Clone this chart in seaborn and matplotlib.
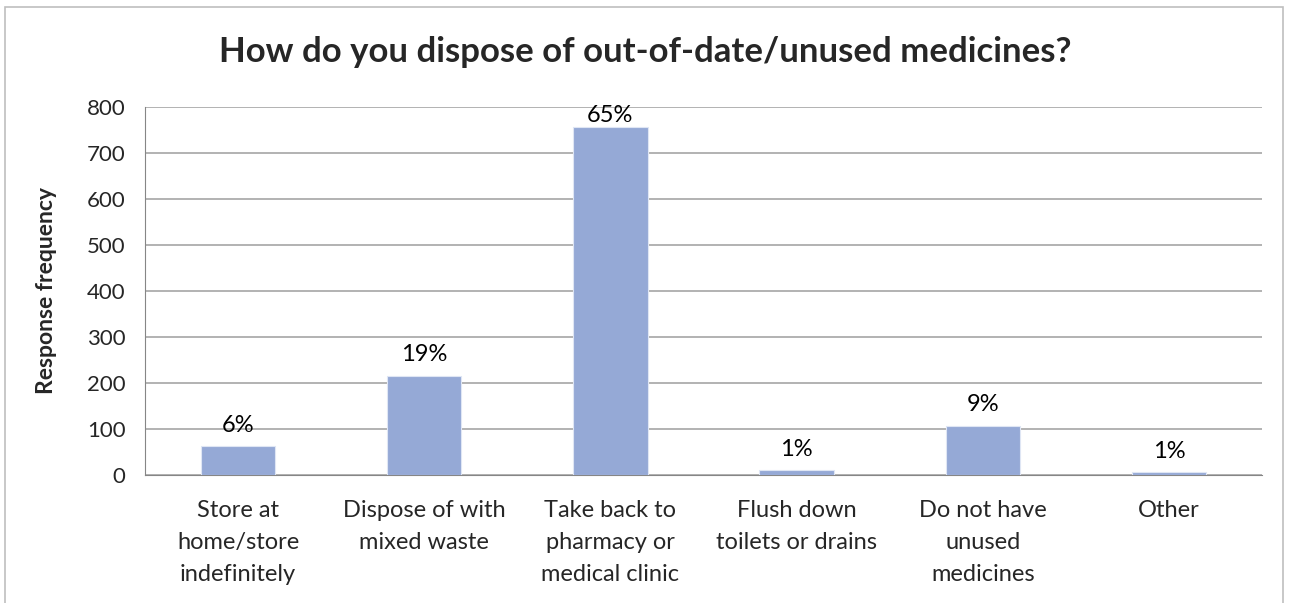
import matplotlib
matplotlib.use("Agg")
import matplotlib.pyplot as plt
import seaborn as sns
import pandas as pd
from matplotlib.patches import Rectangle

# Data
categories = ["Store at\nhome/store\nindefinitely", "Dispose of with\nmixed waste",
              "Take back to\npharmacy or\nmedical clinic", "Flush down\ntoilets or drains",
              "Do not have\nunused\nmedicines", "Other"]
frequencies = [62, 216, 757, 10, 107, 6]
percent_labels = ["6%", "19%", "65%", "1%", "9%", "1%"]
y_ticks = [0, 100, 200, 300, 400, 500, 600, 700, 800]

df = pd.DataFrame({"category": categories, "frequency": frequencies})

sns.set_style("white")
plt.rcParams['font.family'] = ['Lato', 'DejaVu Sans']

fig = plt.figure(figsize=(12.9, 6.03), dpi=100)
ax = fig.add_axes([145 / 1290, 1 - 475 / 603, (1262 - 145) / 1290, (475 - 107) / 603])

sns.barplot(data=df, x="category", y="frequency", color="#95a9d6", saturation=1,
            width=0.4, edgecolor="#dfe6f4", linewidth=0.8, ax=ax, zorder=3)

# percentage labels above each bar (kept inside the plot area, like Excel)
for i, (val, lab) in enumerate(zip(frequencies, percent_labels)):
    ax.text(i, min(val + 46, 782), lab, ha="center", va="center",
            fontsize=17, color="black", zorder=4)

ax.set_ylim(0, 800)
ax.set_yticks(y_ticks)
ax.set_xlim(-0.5, len(categories) - 0.5)
ax.yaxis.grid(True, color="#a6a6a6", linewidth=1.2, zorder=0)
ax.set_axisbelow(True)

for side in ["top", "right"]:
    ax.spines[side].set_visible(False)
ax.spines["left"].set_color("#868686")
ax.spines["bottom"].set_color("#868686")

# tick marks between categories on x, outward ticks on y
ax.set_xticks(range(len(categories)))
ax.set_xticklabels(categories, fontsize=17, linespacing=1.66)
ax.set_xticks([i - 0.5 for i in range(len(categories) + 1)], minor=True)
ax.tick_params(axis="x", which="major", length=0, pad=18)
ax.tick_params(axis="x", which="minor", length=6, color="#868686", direction="out")
ax.tick_params(axis="y", length=6, color="#868686", direction="out", labelsize=16, pad=8)

ax.set_xlabel("")
ax.set_ylabel("Response frequency", fontsize=16.5, fontweight="bold")
ax.yaxis.set_label_coords(-0.079, 0.5)
fig.text(0.5, 1 - 52 / 603, "How do you dispose of out-of-date/unused medicines?",
         ha="center", va="center", fontsize=25, fontweight="bold")

# light chart-area border
fig.patches.append(Rectangle((5 / 1290, -0.01), 1278 / 1290, 1 - 7 / 603 + 0.01,
                             transform=fig.transFigure, fill=False,
                             edgecolor="#bfbfbf", linewidth=1.2))

fig.savefig("out.png", dpi=100, facecolor="white")
